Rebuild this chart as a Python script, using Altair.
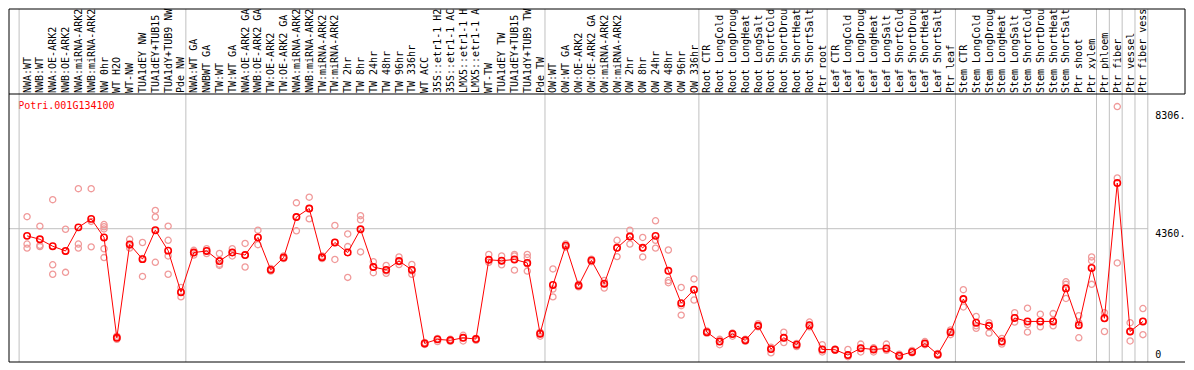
import json
import altair as alt
import pandas as pd

gene = "Potri.001G134100"

labels = [
    "NWA:WT", "NWB:WT", "NWA:OE-ARK2", "NWB:OE-ARK2", "NWA:miRNA-ARK2", "NWB:miRNA-ARK2",
    "NW 0hr", "WT H2O", "WT-NW", "TUA1dEY NW", "TUA1dEY+TUB15 NW", "TUA1dY+TUB9 NW", "Pde NW",
    "NWA:WT GA", "NWBWT GA", "TW:WT", "TW:WT GA", "NWA:OE-ARK2 GA", "NWB:OE-ARK2 GA",
    "TW:OE-ARK2", "TW:OE-ARK2 GA", "NWA:miRNA-ARK2 GA", "NWB:miRNA-ARK2 GA", "TW:miRNA-ARK2",
    "TW:miRNA-ARK2 GA", "TW 2hr", "TW 8hr", "TW 24hr", "TW 48hr", "TW 96hr", "TW 336hr",
    "WT ACC", "35S::etr1-1 H2O", "35S::etr1-1 ACC", "LMX5::etr1-1 H2O", "LMX5::etr1-1 ACC",
    "WT-TW", "TUA1dEY TW", "TUA1dEY+TUB15 TW", "TUA1dY+TUB9 TW", "Pde TW",
    "OW:WT", "OW:WT GA", "OW:OE-ARK2", "OW:OE-ARK2 GA", "OW:miRNA-ARK2", "OW:miRNA-ARK2 GA",
    "OW 2hr", "OW 8hr", "OW 24hr", "OW 48hr", "OW 96hr", "OW 336hr",
    "Root CTR", "Root LongCold", "Root LongDrought", "Root LongHeat", "Root LongSalt",
    "Root ShortCold", "Root ShortDrought", "Root ShortHeat", "Root ShortSalt", "Ptr root",
    "Leaf CTR", "Leaf LongCold", "Leaf LongDrought", "Leaf LongHeat", "Leaf LongSalt",
    "Leaf ShortCold", "Leaf ShortDrought", "Leaf ShortHeat", "Leaf ShortSalt", "Ptr leaf",
    "Stem CTR", "Stem LongCold", "Stem LongDrought", "Stem LongHeat", "Stem LongSalt",
    "Stem ShortCold", "Stem ShortDrought", "Stem ShortHeat", "Stem ShortSalt", "Ptr shoot",
    "Ptr xylem",
    "Ptr phloem", "Ptr fiber", "Ptr vessel", "Ptr fiber vessel",
]

group_sizes = [13, 28, 12, 10, 10, 11, 1, 1, 1, 1]

means = [
    4121, 4005, 3775, 3617, 4404, 4687, 4068, 722, 3838, 3345, 4310, 3628, 2243,
    3565, 3617, 3282, 3565, 3481, 4068, 2988, 3397, 4750, 5033, 3408, 3900, 3565, 4341,
    3083, 2988, 3282, 2988, 534, 670, 638, 722, 680, 3324, 3292, 3334, 3219, 859,
    2484, 3796, 2463, 3303, 2526, 3722, 4100, 3722, 4121, 2956, 1876, 2327,
    911, 597, 848, 638, 1121, 345, 722, 492, 1142, 334,
    324, 146, 376, 334, 366, 125, 251, 534, 167, 911,
    2013, 1226, 1121, 597, 1383, 1268, 1268, 1268, 2369, 1142, 3051,
    1373, 5883, 932, 1268,
]

replicates = [
    [4761, 3848, 3712], [4446, 3806, 3764], [5327, 3156, 2841], [4341, 3607, 2904],
    [5694, 3848, 3712], [5694, 4603, 3754], [4498, 4425, 4352, 3691, 3397], [775, 722, 670],
    [4005, 3796, 3712], [3900, 3366, 2768], [4970, 4750, 3240], [4446, 3974, 3450, 2841],
    [2401, 2243, 2086],
    [3638, 3555, 3481], [3691, 3617, 3533], [3533, 3177, 3135], [3691, 3565, 3450],
    [3869, 3481, 3083], [4310, 4068, 3827], [3030, 2988, 2946], [3450, 3397, 3366],
    [5222, 4750, 4289], [5411, 5033, 4687], [3450, 3408, 3366], [4467, 3900, 3334],
    [4184, 3764, 2736], [4792, 4656, 3586], [3261, 3083, 2894], [3135, 2956, 2873],
    [3418, 3261, 3166], [3166, 2956, 2841], [565, 534, 502], [701, 670, 597],
    [670, 638, 607], [806, 722, 617], [701, 680, 638], [3502, 3324, 3240],
    [3450, 3292, 3156], [3502, 3450, 2978], [3502, 3397, 3187, 2946], [911, 859, 775],
    [3019, 2348, 2086], [3848, 3796, 3743], [2505, 2463, 2421], [3345, 3303, 3261],
    [2631, 2526, 2380], [3974, 3722, 3429], [4310, 4100, 3848], [4068, 3722, 3418],
    [4624, 3974, 3712], [3649, 2631, 2558], [2401, 1792, 1478], [2684, 2327, 1981],
    [953, 911, 869], [670, 597, 492], [880, 848, 775], [670, 638, 607], [1194, 1121, 1089],
    [408, 345, 219], [911, 722, 565], [534, 492, 429], [1247, 1142, 1089], [492, 334, 250],
    [345, 324, 303], [334, 146, 93], [513, 376, 250], [387, 334, 250], [513, 366, 303],
    [177, 125, 93], [303, 251, 219], [597, 534, 492], [198, 167, 135], [985, 911, 827],
    [2327, 2013, 1750], [1436, 1121, 1037], [1226, 1121, 880], [701, 597, 513],
    [1561, 1383, 1247], [1708, 1163, 911], [1509, 1268, 1089], [1530, 1268, 1121],
    [2589, 2505, 2034], [1457, 1226, 722], [3418, 3292, 2505],
    [1561, 1373, 932], [8432, 6051, 3219], [1226, 932, 617], [1698, 1268, 827],
]

y_ticks = [0, 4360, 8306]
y_tick_labels = ["0", "4360.", "8306."]
grid_value = 4360

# ---- layout (pixels) ----
W, H, HDR = 1176, 268, 85
XMIN, XMAX = -1.408, 90.28
YMIN, YMAX = -85, 8851
BOFF = 0.62
MAXCH = 14
FONT = "DejaVu Sans Mono"
GRID = "#c0c0c0"

n = len(labels)
starts = [0]
for s in group_sizes:
    starts.append(starts[-1] + s)
px_per = W / (XMAX - XMIN)
axis_x = (n - BOFF - XMIN) * px_per

mean_df = pd.DataFrame({"idx": list(range(n)), "v": means})
rep_df = pd.DataFrame(
    [{"idx": i, "v": v} for i, reps in enumerate(replicates) for v in reps]
)
vgrid_df = pd.DataFrame({"b": [s - BOFF for s in starts]})
hgrid_df = pd.DataFrame({"x0": [XMIN], "x1": [n - BOFF], "v": [grid_value]})
one = pd.DataFrame({"k": [0]})

disp = [s[:MAXCH] for s in labels]
label_expr = "[" + ",".join(json.dumps(s) for s in disp) + "][datum.value]"
ylab_expr = (
    "[" + ",".join(json.dumps(s) for s in y_tick_labels) + "]"
    + "[indexof(" + json.dumps(y_ticks) + ", datum.value)]"
)

xs = alt.Scale(domain=[XMIN, XMAX], nice=False, zero=False)
ys = alt.Scale(domain=[YMIN, YMAX], nice=False, zero=False)

X_AX = alt.Axis(
    orient="top", values=list(range(n)), labelExpr=label_expr, labelAngle=270,
    labelAlign="left", labelBaseline="middle", labelPadding=1.5, labelFont=FONT,
    labelFontSize=10, labelColor="black", labelOverlap=False, labelFlush=False,
    labelBound=False, ticks=False, domain=False, grid=False,
    title=gene, titleX=8.7, titleY=11, titleAngle=0, titleAlign="left",
    titleBaseline="middle", titleColor="#ff0000", titleFont=FONT, titleFontSize=10,
    titleFontWeight="normal",
)
Y_AX = alt.Axis(
    orient="right", offset=-(W - axis_x), values=y_ticks, labelExpr=ylab_expr,
    labelAlign="left",
    labelBaseline={"condition": {"test": "datum.value === 0", "value": "bottom"}, "value": "top"},
    labelPadding=7, labelFont=FONT, labelFontSize=10, labelColor="black",
    labelOverlap=False, labelFlush=False, ticks=False, domain=False, grid=False, title=None,
)

vgrid = alt.Chart(vgrid_df).mark_rule(color=GRID, strokeWidth=1).encode(
    x=alt.X("b:Q", scale=xs, axis=X_AX), y=alt.value(-HDR), y2=alt.value(H)
)
hgrid = alt.Chart(hgrid_df).mark_rule(color=GRID, strokeWidth=1).encode(
    x=alt.X("x0:Q", scale=xs, axis=X_AX), x2="x1:Q", y=alt.Y("v:Q", scale=ys, axis=Y_AX)
)
reps = alt.Chart(rep_df).mark_point(
    shape="circle", filled=False, size=38, strokeWidth=1.3, color="#f09a9a", opacity=1
).encode(x=alt.X("idx:Q", scale=xs, axis=X_AX), y=alt.Y("v:Q", scale=ys, axis=Y_AX))
line = alt.Chart(mean_df).mark_line(color="#ff0000", strokeWidth=1).encode(
    x=alt.X("idx:Q", scale=xs, axis=X_AX), y=alt.Y("v:Q", scale=ys, axis=Y_AX)
)
pts = alt.Chart(mean_df).mark_point(
    shape="circle", filled=False, size=40, strokeWidth=1.6, color="#ff0000", opacity=1
).encode(x=alt.X("idx:Q", scale=xs, axis=X_AX), y=alt.Y("v:Q", scale=ys, axis=Y_AX))

header = alt.Chart(one).mark_rect(fillOpacity=0, stroke="black", strokeWidth=1).encode(
    x=alt.value(0), x2=alt.value(W), y=alt.value(-HDR), y2=alt.value(0)
)
left = alt.Chart(one).mark_rule(color="black", strokeWidth=1).encode(
    x=alt.value(0), y=alt.value(0), y2=alt.value(H)
)
bottom = alt.Chart(one).mark_rule(color="black", strokeWidth=1).encode(
    x=alt.value(0), x2=alt.value(W), y=alt.value(H)
)

chart = (
    alt.layer(vgrid, hgrid, reps, line, pts, header, left, bottom)
    .properties(width=W, height=H, padding=0, background="white")
    .configure_view(stroke=None)
)

chart.save("out.html", embed_options={"renderer": "svg", "actions": False})
